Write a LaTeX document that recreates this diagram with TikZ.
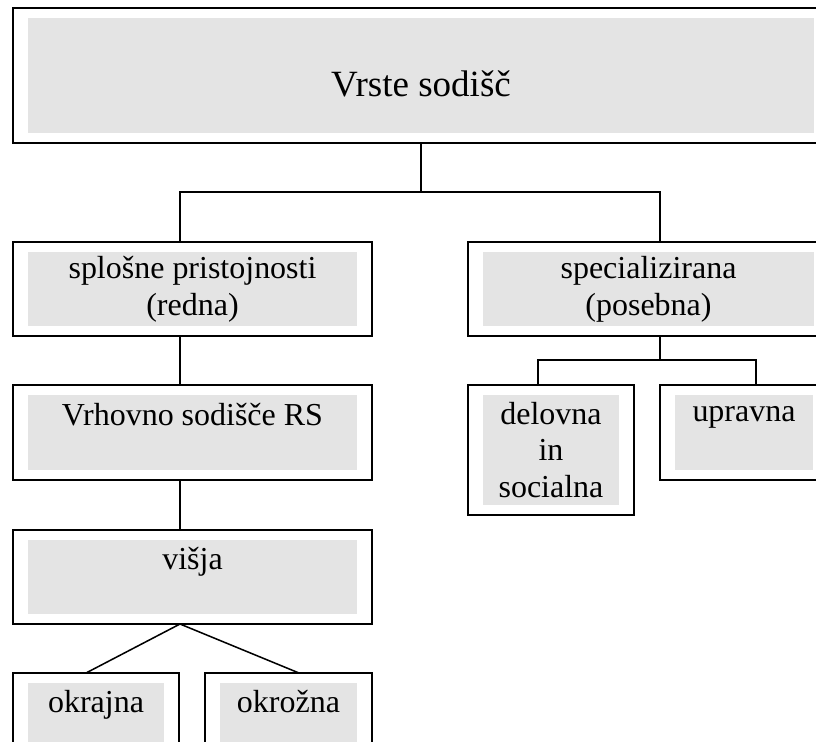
\documentclass[tikz,border=0pt]{standalone}
\usepackage{fontspec}
\setmainfont{Liberation Serif}
\usetikzlibrary{positioning}
\definecolor{courtgray}{HTML}{E4E4E4}
\tikzstyle{court} = [draw, line width=1.9pt, fill=white, inner sep=0pt, outer sep=0pt, align=center,
  path picture={\fill[courtgray] ([shift={(0.45cm,-0.3cm)}]path picture bounding box.north west)
    rectangle ([shift={(-0.45cm,0.3cm)}]path picture bounding box.south east);}]
\tikzstyle{link} = [line width=1.3pt]

\begin{document}
\begin{tikzpicture}[font=\fontsize{27.3}{31.5}\selectfont]
    % fixed frame, the right and bottom boxes run off the page
    \useasboundingbox (0,0) rectangle (24.48,-22.26);
    \node [court, anchor=north west, minimum width=24.48cm, minimum height=4.05cm,
           font=\fontsize{31.6}{36}\selectfont, text height=1.25cm, text depth=0pt]
           (vrste) at (0.39,-0.24) {Vrste sodišč};
    \node [court, below right=2.97cm and 0cm of vrste.south west, minimum width=10.77cm, minimum height=2.82cm]
           (splosna) {splošne pristojnosti\\(redna)};
    \node [court, right=2.88cm of splosna, minimum width=10.83cm, minimum height=2.82cm]
           (posebna) {specializirana\\(posebna)};
    \node [court, below right=1.47cm and 0cm of splosna.south west, minimum width=10.77cm, minimum height=2.85cm]
           (vrhovno) {Vrhovno sodišče RS\\~};
    \node [court, below right=1.5cm and 0cm of vrhovno.south west, minimum width=10.77cm, minimum height=2.82cm]
           (visja) {višja\\~};
    \node [court, below right=1.47cm and 0cm of visja.south west, minimum width=4.98cm, minimum height=2.82cm]
           (okrajna) {okrajna\\~};
    \node [court, right=0.78cm of okrajna, minimum width=5.01cm, minimum height=2.82cm]
           (okrozna) {okrožna\\~};
    \node [court, below right=1.47cm and 0cm of posebna.south west, minimum width=4.98cm, minimum height=3.9cm]
           (delovna) {delovna\\in\\socialna};
    \node [court, below right=0cm and 0.78cm of delovna.north east, minimum width=5.04cm, minimum height=2.85cm]
           (upravna) {upravna\\~};

    % connectors
    \draw [link] (vrste.south) -- ++(0,-1.47) coordinate (razcep);
    \draw [link] ([xshift=-0.375cm]splosna.north) |- (razcep) -| ([xshift=0.345cm]posebna.north);
    \draw [link] ([xshift=-0.375cm]splosna.south) -- ([xshift=-0.375cm]vrhovno.north);
    \draw [link] ([xshift=-0.375cm]vrhovno.south) -- ([xshift=-0.375cm]visja.north);
    \draw [link] ([xshift=-0.3cm]okrajna.north) -- ([xshift=-0.375cm]visja.south) -- ([xshift=0.315cm]okrozna.north);
    \draw [link] ([xshift=0.345cm]posebna.south) -- ++(0,-0.72) coordinate (razcep2);
    \draw [link] ([xshift=-0.39cm]delovna.north) |- (razcep2) -| ([xshift=0.36cm]upravna.north);
\end{tikzpicture}
\end{document}
